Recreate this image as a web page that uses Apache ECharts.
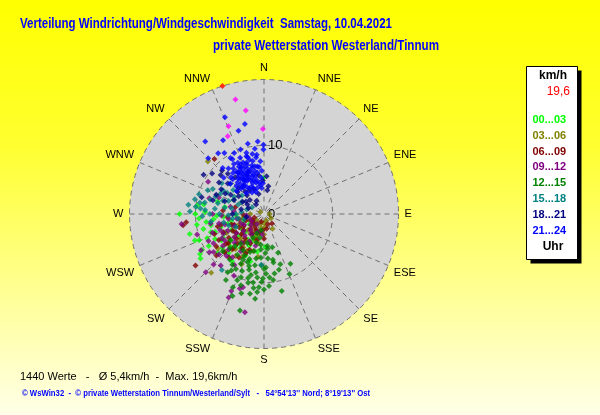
<!DOCTYPE html>
<html>
<head>
<meta charset="utf-8">
<script src="https://cdn.jsdelivr.net/npm/echarts@6/dist/echarts.min.js"></script>
<style>
  html, body { margin: 0; padding: 0; }
  #main { width: 600px; height: 415px; }
</style>
</head>
<body>
<div id="main"></div>
<script>
// Windrichtung: 16 Sektoren, Startwinkel oben (N), im Uhrzeigersinn
var directions = ['N', 'NNE', 'NE', 'ENE', 'E', 'ESE', 'SE', 'SSE', 'S', 'SSW', 'SW', 'WSW', 'W', 'WNW', 'NW', 'NNW'];
var radiusTicks = [0, 10];
var maxSpeed = 19.6;

var hourRanges = ['00...03', '03...06', '06...09', '09...12', '12...15', '15...18', '18...21', '21...24'];
var hourColors = ['#00ff00', '#808000', '#800000', '#800080', '#008000', '#008080', '#000080', '#0000ff'];

// Messwerte je 3-Stunden-Block: [Geschwindigkeit km/h, Richtung Grad]
var h00_03 = [[12.3,270],[11.2,255],[10.2,248],[9.8,277],[10.4,240],[11.3,235],[11.0,238],[4.8,178],[5.3,359],[8.5,262],
  [7.6,250],[6.9,268],[9.1,256],[8.0,243],[6.2,232],[5.5,255],[7.3,238],[4.6,247],[3.8,226],[6.0,215],[5.1,205],[7.7,222],
  [8.8,230],[9.5,266],[3.2,250],[2.6,235],[4.1,268],[5.8,280],[7.0,285],[6.6,204],[8.3,214],[2.0,220],[9.9,261],[10.8,249],
  [6.4,244],[5.0,230],[7.9,258],[4.4,212],[3.5,200],[8.6,272],[9.3,240],[6.8,226],[2.9,262],[5.6,190],[7.2,196],
  [3.9,236],[5.3,244],[6.6,253],[7.4,264],[8.2,251],[9.0,247],[4.9,258],[6.1,222],[7.8,231],[3.4,213],[10.0,270],[8.9,279],
  [5.9,266],[2.3,246],[6.9,240],[4.2,203]];
var h03_06 = [[1.2,122],[11.2,313],[11.5,222],[8.0,204],[2.9,192],[1.6,200],[3.5,215],[4.4,228],[5.2,221],[6.1,210],
  [2.2,245],[3.1,260],[4.0,199],[5.6,196],[6.8,230],[7.4,214],[1.9,175],[2.5,150],[3.6,238],[4.8,250],[0.8,90],[1.4,230],
  [6.3,188],[5.0,240],[2.7,208],[7.9,226],[4.3,191],[1.0,160],[3.0,180],[5.9,205],[2.0,270],[6.6,219],[8.4,233],[0.6,300],[3.3,225],
  [2.4,230],[3.7,205],[4.6,214],[5.4,232],[6.1,243],[7.0,222],[2.1,190],[3.9,248],[1.7,215],[4.9,224],[5.7,212],[3.2,197],
  [1.3,180],[6.9,207]];
var h06_09 = [[12.5,233],[10.8,318],[11.9,262],[1.6,160],[2.4,185],[3.9,195],[3.3,210],[4.5,218],[5.4,228],[6.2,236],
  [2.0,230],[2.8,250],[4.1,242],[5.0,252],[6.5,246],[7.1,232],[3.0,268],[1.2,200],[4.7,205],[5.9,213],[6.8,222],[7.6,240],
  [8.4,236],[3.6,180],[2.2,170],[1.5,250],[5.3,265],[6.0,275],[4.3,283],[7.3,210],[8.1,219],[1.8,140],[2.6,205],[3.8,232],
  [4.9,236],[6.4,256],[7.8,248],[9.2,229],[5.6,202],[11.4,264],
  [2.9,222],[3.4,240],[4.4,228],[5.2,242],[5.8,222],[6.7,231],[7.0,255],[2.3,215],[3.7,258],[4.6,250],[1.9,240],[8.0,226],
  [5.1,215],[6.3,205],[2.7,195]];
var h09_12 = [[14.6,191],[13.2,203],[11.4,198],[12.0,225],[10.4,225],[9.7,235],[12.1,263],[9.4,300],[8.3,286],[7.5,270],
  [6.7,258],[5.8,245],[4.9,235],[4.2,222],[3.5,212],[2.8,200],[6.0,226],[7.1,240],[8.0,250],[5.2,262],[4.4,275],[3.6,248],
  [2.5,230],[6.4,212],[7.8,216],[8.8,228],[9.0,244],[10.2,253],[3.0,185],[4.8,195],[11.1,196],[12.2,203],[1.8,215],[2.2,255],
  [5.5,232],[6.9,236],[7.3,225],[8.5,240],[4.0,260],[5.0,282],[9.8,220],[3.3,242],[6.2,268],[10.0,206],[7.0,290],
  [2.1,240],[3.9,230],[4.7,248],[5.9,255],[6.6,244],[7.6,232],[8.2,222],[3.1,220],[4.5,208],[5.3,218],[6.8,250],[7.9,260],
  [9.2,233],[2.6,265],[10.6,240],[8.6,210]];
var h12_15 = [[14.5,194],[11.5,167],[11.4,185],[9.5,157],[8.2,152],[8.8,170],[6.5,175],[7.2,169],[11.6,203],[10.9,198],
  [10.7,184],[9.6,194],[9.4,181],[11.1,210],[8.3,217],[4.7,174],[6.8,169],[9.3,175],[8.6,188],[7.9,196],[7.3,205],[6.6,190],
  [5.9,200],[5.2,185],[10.1,189],[9.0,207],[8.0,180],[7.5,183],[6.1,210],[5.5,218],[4.3,195],[3.8,205],[10.5,176],[12.0,196],
  [12.8,201],[7.0,225],[6.2,232],[8.7,212],[9.8,200],[10.3,193],[4.9,210],[3.5,190],[5.0,166],[6.0,160],[7.7,162],[8.4,165],
  [9.1,192],[8.9,201],[7.6,190],[6.9,198],[5.7,178],[4.5,186],[10.0,212],[11.8,190],[12.4,186],[9.7,172],[3.0,200],[2.4,190],
  [6.3,222],[8.1,228],
  [7.1,213],[8.4,195],[9.3,186],[10.4,202],[6.4,184],[5.6,195],[7.8,178],[9.9,182],[10.9,188],[8.7,178],[6.7,205],[7.4,199],
  [5.1,174],[11.0,180],[9.5,210],[8.0,205]];
var h15_18 = [[11.1,277],[10.8,272],[8.9,293],[7.6,306],[10.2,217],[9.5,280],[8.1,285],[7.0,295],[6.2,300],[5.5,290],
  [4.8,280],[6.5,270],[7.8,262],[5.0,300],[4.0,290],[3.3,275],[6.9,283],[8.6,274],[3.0,255],[4.5,245],[5.7,308],[9.9,287],
  [4.2,310],[2.6,285],[7.4,183],[10.3,282],[7.2,276],[6.0,258],[5.2,268],[3.7,298],[8.3,296],[2.0,300],[9.0,268],[6.6,312],[4.6,262],
  [5.8,279],[6.3,288],[7.5,290],[4.1,270],[8.8,281],[3.8,260],[5.4,252],[7.9,270],[9.3,275],[6.9,300],[4.9,295],[10.0,276]];
var h18_21 = [[10.5,303],[8.8,316],[5.5,4],[4.1,9],[9.4,285],[5.0,310],[4.3,320],[3.6,300],[2.9,315],[4.8,295],
  [6.0,288],[7.2,300],[3.9,338],[3.0,345],[2.2,330],[6.8,322],[5.8,330],[4.6,270],[3.4,282],[7.5,292],[2.6,260],[6.5,340],
  [8.0,305],[5.3,316],[6.4,298],[3.2,305],[1.8,320],[7.9,318],[9.6,308],[2.4,290],[4.0,328],[5.7,352],[4.9,358],[3.5,8],
  [5.6,300],[6.9,310],[4.5,305],[7.1,328],[8.5,312],[3.7,318],[6.2,336],[5.1,324],[2.8,300],[7.7,285]];
var h21_24 = [[15.2,338],[13.4,348],[12.7,343],[12.3,331],[13.6,321],[10.5,347],[10.6,355],[10.1,359.5],[9.4,359.5],[11.1,323],
  [10.6,327],[9.3,344],[8.7,353],[11.5,315],[9.5,329],[9.6,352],[8.9,349],[10.0,340],[9.9,334],[8.4,322],[7.9,312],[9.0,318],
  [6.2,330],[6.8,335],[5.9,338],[7.1,328],[5.4,333],[6.5,342],[7.4,337],[5.1,326],[4.8,340],[7.8,332],[6.0,320],[5.6,347],
  [6.9,345],[7.6,341],[8.1,338],[4.4,335],[4.9,322],[5.7,315],[6.4,324],[7.2,318],[8.0,326],[8.4,333],[3.9,345],[4.2,352],
  [5.3,356],[6.1,351],[7.0,352],[7.9,348],[8.6,344],[3.6,331],[4.6,328],[5.8,343],[6.7,327],[7.5,323],[6.3,336],[5.0,348],
  [4.0,320],[8.9,337],[9.2,330],[3.4,340],[6.6,312],[5.2,310],[7.7,356],[8.3,352],[4.5,358],[5.5,322],[6.0,345],[7.3,346],
  [6.5,332],[5.3,339],[7.0,340],[8.5,329],[4.7,346],[5.9,329],[6.8,318],[7.6,334],[8.8,343],[3.8,355],[4.1,338],[6.3,357],
  [7.1,349],[5.6,336],[6.9,331],
  [5.8,333],[6.6,339],[7.3,332],[6.1,326],[7.9,341],[5.2,343],[4.3,330],[6.4,348],[7.4,327],[8.2,345],[5.0,318],[4.6,352],
  [8.0,335],[6.9,354],[5.5,329]];
// Spitzenwerte (magenta) und Tagesmaximum (rot)
var peaks = [[17.2,346],[15.3,350],[13.8,338],[12.5,335],[12.4,359.3]];
var maximum = [[19.6,342]];

var titleMain = 'Verteilung Windrichtung/Windgeschwindigkeit  Samstag, 10.04.2021';
var titleSub = 'private Wetterstation Westerland/Tinnum';
var footerStats = '1440 Werte   -   \u00d8 5,4km/h  -  Max. 19,6km/h';
var footerCopy = '\u00a9 WsWin32  -  \u00a9 private Wetterstation Tinnum/Westerland/Sylt   -   54\u00b054\'13\'\' Nord; 8\u00b019\'13\'\' Ost';

var polarCenter = [264, 214];
var polarRadius = 134.5;

var hourData = [h00_03, h03_06, h06_09, h09_12, h12_15, h15_18, h18_21, h21_24];

var series = hourData.map(function (d, i) {
  return {
    name: hourRanges[i],
    type: 'scatter',
    coordinateSystem: 'polar',
    symbol: 'diamond',
    symbolSize: 6,
    itemStyle: { color: hourColors[i] },
    data: d
  };
});
series.push({ name: 'Spitze', type: 'scatter', coordinateSystem: 'polar', symbol: 'diamond', symbolSize: 6,
  itemStyle: { color: '#ff00ff' }, data: peaks });
series.push({ name: 'Max', type: 'scatter', coordinateSystem: 'polar', symbol: 'diamond', symbolSize: 6,
  itemStyle: { color: '#ff0000' }, data: maximum });

var myChart = echarts.init(document.getElementById('main'));
myChart.setOption({
  animation: false,
  backgroundColor: {
    type: 'linear', x: 0, y: 0, x2: 0, y2: 1,
    colorStops: [{ offset: 0, color: '#ffff00' }, { offset: 0.35, color: '#ffff30' }, { offset: 1, color: '#ffffe8' }]
  },
  polar: { center: polarCenter, radius: polarRadius },
  angleAxis: {
    type: 'value', min: 0, max: 360, interval: 22.5, startAngle: 90, clockwise: true,
    axisLine: { show: false },
    axisTick: { show: false },
    axisLabel: {
      margin: 6, color: '#000', fontSize: 11, fontFamily: 'Liberation Sans',
      formatter: function (v) { return directions[Math.round(v / 22.5)] || ''; }
    },
    splitLine: { show: true, lineStyle: { color: '#707070', type: [5, 4], width: 1 } }
  },
  radiusAxis: {
    type: 'value', min: 0, max: maxSpeed, interval: 10,
    axisLine: { show: false },
    axisTick: { show: false },
    axisLabel: {
      color: '#000', fontSize: 13, fontFamily: 'Liberation Sans', margin: -4, align: 'left',
      formatter: function (v) { return radiusTicks.indexOf(v) >= 0 ? String(v) : ''; }
    },
    splitLine: { show: true, lineStyle: { color: '#707070', type: [5, 4], width: 1 } }
  },
  legend: {
    orient: 'vertical', left: 527.5, top: 113, padding: 0,
    itemWidth: 0, itemHeight: 14, itemGap: 1.8, selectedMode: false,
    textStyle: { fontSize: 11, fontWeight: 'bold', fontFamily: 'Liberation Sans', lineHeight: 14 },
    data: hourRanges.map(function (n, i) { return { name: n, icon: 'none', textStyle: { color: hourColors[i] } }; })
  },
  graphic: [
    // grauer Kreis als Hintergrund der Windrose
    { type: 'circle', z: -10, silent: true, shape: { cx: polarCenter[0], cy: polarCenter[1], r: polarRadius }, style: { fill: '#d4d4d4' } },
    { type: 'text', x: 20, y: 17, scaleX: 0.822, silent: true,
      style: { text: titleMain, fill: '#0000ff', font: 'bold 14px "Liberation Sans"' } },
    { type: 'text', x: 213, y: 39, scaleX: 0.83, silent: true,
      style: { text: titleSub, fill: '#0000ff', font: 'bold 14px "Liberation Sans"' } },
    { type: 'text', x: 20, y: 371, silent: true,
      style: { text: footerStats, fill: '#000', font: '11px "Liberation Sans"' } },
    { type: 'text', x: 22, y: 389.5, scaleX: 0.86, silent: true,
      style: { text: footerCopy, fill: '#0000ff', font: 'bold 9px "Liberation Sans"' } },
    // Legendenkasten mit Schatten
    { type: 'rect', silent: true, shape: { x: 530.5, y: 70.5, width: 51, height: 193 }, style: { fill: '#000' } },
    { type: 'rect', silent: true, shape: { x: 526.5, y: 66.5, width: 51, height: 193 }, style: { fill: '#fff', stroke: '#000', lineWidth: 1 } },
    { type: 'text', x: 553, y: 76, style: { text: 'km/h', fill: '#000', font: 'bold 12px "Liberation Sans"', textAlign: 'center', textVerticalAlign: 'middle' } },
    { type: 'text', x: 570, y: 92, style: { text: '19,6', fill: '#ff0000', font: '12px "Liberation Sans"', textAlign: 'right', textVerticalAlign: 'middle' } },
    { type: 'text', x: 553, y: 247, style: { text: 'Uhr', fill: '#000', font: 'bold 12px "Liberation Sans"', textAlign: 'center', textVerticalAlign: 'middle' } }
  ],
  series: series
});
</script>
</body>
</html>
